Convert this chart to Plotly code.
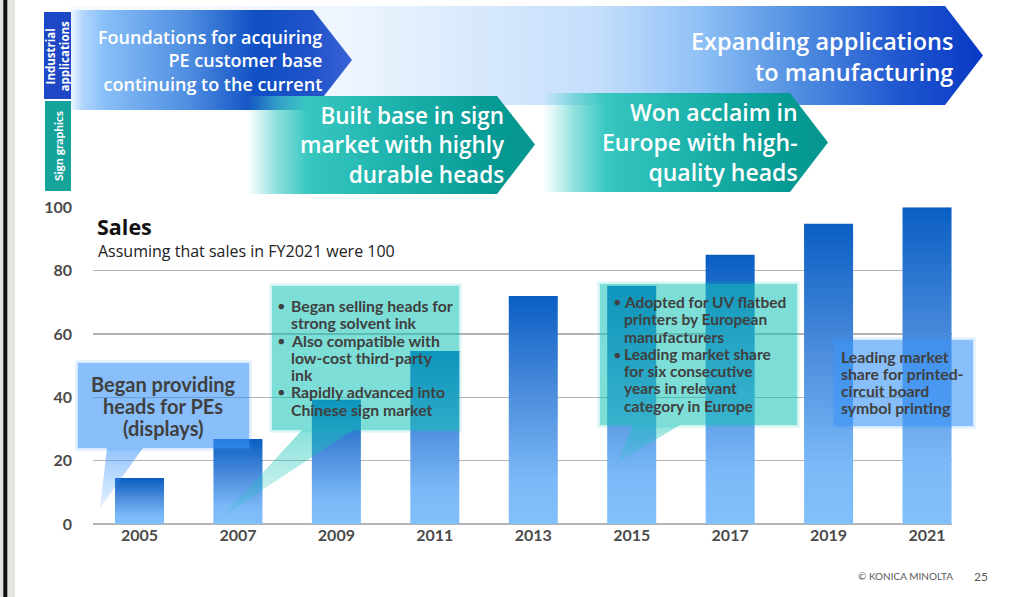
import plotly.graph_objects as go

# ---------------- data ----------------
years = ["2005", "2007", "2009", "2011", "2013", "2015", "2017", "2019", "2021"]
sales = [14.5, 26.8, 39.2, 54.6, 72.0, 75.2, 85.0, 94.8, 100.0]
y_ticks = [0, 20, 40, 60, 80, 100]

title_text = "Sales"
subtitle_text = "Assuming that sales in FY2021 were 100"
row_industrial = ["Industrial", "applications"]
row_sign = "Sign graphics"
banner_foundations = ["Foundations for acquiring", "PE customer base", "continuing to the current"]
banner_expanding = ["Expanding applications", "to manufacturing"]
banner_built = ["Built base in sign", "market with highly", "durable heads"]
banner_won = ["Won acclaim in", "Europe with high-", "quality heads"]
callout_pe = ["Began providing", "heads for PEs", "(displays)"]
callout_solvent = [("●", "Began selling heads for"), ("", "strong solvent ink"),
                   ("●", "Also compatible with"), ("", "low-cost third-party"), ("", "ink"),
                   ("●", "Rapidly advanced into"), ("", "Chinese sign market")]
callout_uv = [("●", "Adopted for UV flatbed"), ("", "printers by European"), ("", "manufacturers"),
              ("●", "Leading market share"), ("", "for six consecutive"), ("", "years in relevant"),
              ("", "category in Europe")]
callout_pcb = ["Leading market", "share for printed-", "circuit board", "symbol printing"]
footer_left = "© KONICA MINOLTA"
footer_page = "25"

# ---------------- layout constants ----------------
W, H = 1015, 597
LATO = "Lato, 'Open Sans', sans-serif"
OPEN = "'Open Sans', 'Noto Sans', sans-serif"
TXT = "#404040"
BAR_HALF = 0.249
X0_PX, X1_PX = 93, 952
Y0_PX, Y100_PX = 524, 207.3
PITCH = 98.44
FIRST_C = 139.5
x_range = [(X0_PX - FIRST_C) / PITCH, (X1_PX - FIRST_C) / PITCH]

bar_scale = [[0, "#82c0fc"], [0.2, "#7ab8f7"], [0.55, "#4f8fdd"], [1, "#0a5ec3"]]

fig = go.Figure()

# ---------------- bars (main axes) ----------------
for i, v in enumerate(sales):
    fig.add_trace(go.Scatter(
        x=[i - BAR_HALF, i + BAR_HALF, i + BAR_HALF, i - BAR_HALF, i - BAR_HALF],
        y=[0, 0, v, v, 0],
        fill="toself", mode="none",
        fillgradient=dict(type="vertical", colorscale=bar_scale, start=0, stop=v),
        hoverinfo="skip", showlegend=False, xaxis="x", yaxis="y"))


# ---------------- decorations (pixel overlay axes) ----------------
def poly(pts, fillcolor=None, grad=None):
    xs = [p[0] for p in pts] + [pts[0][0]]
    ys = [p[1] for p in pts] + [pts[0][1]]
    kw = dict(x=xs, y=ys, fill="toself", mode="none", hoverinfo="skip",
              showlegend=False, xaxis="x2", yaxis="y2")
    if grad is not None:
        kw["fillgradient"] = grad
    else:
        kw["fillcolor"] = fillcolor
    fig.add_trace(go.Scatter(**kw))


def soft_box(x0, y0, x1, y1, rgb, alpha):
    # faint halo to imitate the blurred edge, then the box itself
    for d, a in ((3, 0.10), (1.5, 0.12)):
        poly([(x0 - d, y0 - d), (x1 + d, y0 - d), (x1 + d, y1 + d), (x0 - d, y1 + d)],
             fillcolor=f"rgba({rgb},{a})")
    poly([(x0, y0), (x1, y0), (x1, y1), (x0, y1)], fillcolor=f"rgba({rgb},{alpha})")


# Expanding applications (background big arrow)
poly([(71, 6), (945, 6), (983, 55.5), (945, 105), (71, 105)],
     grad=dict(type="horizontal", start=71, stop=983,
               colorscale=[[0, "#f7fbff"], [0.3, "#eef5fe"], [0.58, "#c4defb"], [0.69, "#8fc1f6"],
                           [0.8, "#4f8de0"], [0.91, "#1f56cf"], [1, "#0838c4"]]))
# Foundations arrow
poly([(71, 10), (313, 10), (352, 60), (313, 110), (71, 110)],
     grad=dict(type="horizontal", start=71, stop=352,
               colorscale=[[0, "#eef6ff"], [0.04, "#b3d7fc"], [0.12, "#88bff8"], [0.42, "#4e8de0"],
                           [0.66, "#0f4fc3"], [0.85, "#1f52c8"], [1, "#3a62d6"]]))
teal_scale = lambda f1, f2: [[0, "rgba(80,210,205,0)"], [f1, "rgba(70,205,200,0.6)"], [f2, "#38c7c1"],
                             [0.5, "#1fb3ad"], [0.85, "#069a94"], [1, "#06968f"]]
# Built base arrow
poly([(247, 96), (497, 96), (535, 144.5), (497, 194), (247, 194)],
     grad=dict(type="horizontal", start=247, stop=535, colorscale=teal_scale(0.1, 0.21)))
# Won acclaim arrow
poly([(543, 93), (790, 93), (828, 142.5), (790, 192), (543, 192)],
     grad=dict(type="horizontal", start=543, stop=828, colorscale=teal_scale(0.11, 0.22)))
# row label boxes
poly([(44, 12), (71, 12), (71, 99), (44, 99)], fillcolor="#1d47c4")
poly([(45, 101), (71, 101), (71, 191), (45, 191)], fillcolor="#16a39c")

# callouts
BLUE_RGB, BLUE_A = "60,150,250", 0.50
TEAL_RGB, TEAL_A = "20,195,182", 0.43
soft_box(78, 363, 249, 448, BLUE_RGB, BLUE_A)
poly([(107, 448), (143, 448), (100, 508)],
     grad=dict(type="vertical", start=448, stop=508,
               colorscale=[[0, "rgba(60,150,250,0.55)"], [1, "rgba(60,150,250,0.12)"]]))
soft_box(272, 286, 459, 430, TEAL_RGB, TEAL_A)
poly([(302, 430), (353, 430), (223, 516)],
     grad=dict(type="vertical", start=430, stop=516,
               colorscale=[[0, "rgba(20,195,182,0.5)"], [1, "rgba(20,195,182,0.12)"]]))
soft_box(600, 284, 797, 425, TEAL_RGB, TEAL_A)
poly([(633, 425), (680, 425), (617, 463)],
     grad=dict(type="vertical", start=425, stop=463,
               colorscale=[[0, "rgba(20,195,182,0.48)"], [1, "rgba(20,195,182,0.12)"]]))
soft_box(834, 340, 973, 426, BLUE_RGB, BLUE_A)

# ---------------- text ----------------
ann = []


def text(x, y, s, size, color=TXT, anchor="left", weight="bold", angle=0, family=LATO, align=None):
    ann.append(dict(x=x, y=y, xref="x2", yref="y2", text=s, showarrow=False,
                    xanchor=anchor, yanchor="middle", textangle=angle, borderpad=0,
                    align=align or (anchor if anchor in ("left", "right") else "center"),
                    font=dict(family=family, size=size, color=color, weight=weight)))


text(323, 60.5, "<br>".join(banner_foundations), 18, "white", "right", 600, family=OPEN)
text(954, 56, "<br>".join(banner_expanding), 23.5, "white", "right", 600, family=OPEN)
text(506, 145, "<br>".join(banner_built), 22.5, "white", "right", 600, family=OPEN)
text(799, 142, "<br>".join(banner_won), 23, "white", "right", 600, family=OPEN)

text(57.5, 56, "<br>".join(row_industrial), 11.5, "white", "center", "bold", -90, family=OPEN)
text(58, 146, row_sign, 12, "white", "center", "bold", -90)

text(96, 226, title_text, 21.5, "#111111", "left", "bold", family=OPEN)
text(97, 251, subtitle_text, 16, "#222222", "left", "normal", family=OPEN)

for s, y in zip(callout_pe, [384, 406, 428]):
    text(163, y, s, 20, TXT, "center")
for (b, s), y in zip(callout_solvent, [305, 322.5, 340, 357.3, 374.5, 391.7, 409]):
    if b:
        text(281, y, b, 11, TXT, "center")
    text(290, y, s, 15.8, TXT, "left")
for (b, s), y in zip(callout_uv, [301.7, 319.3, 336.7, 354, 371, 388.3, 405.7]):
    if b:
        text(617, y, b, 11, TXT, "center")
    text(623, y, s, 15.5, TXT, "left")
for s, y in zip(callout_pcb, [356, 373.3, 390.7, 407.7]):
    text(840, y, s, 15.8, TXT, "left")

text(954, 576, footer_left, 10, "#595959", "right", "normal")
text(989, 576, footer_page, 12, "#595959", "right", "normal")

# left page edge
shapes = [
    dict(type="rect", xref="x2", yref="y2", x0=0, x1=15, y0=0, y1=H, fillcolor="#e4e4e0", line_width=0, layer="below"),
    dict(type="rect", xref="x2", yref="y2", x0=3.3, x1=7.3, y0=0, y1=H, fillcolor="#111111", line_width=0, layer="below"),
]

fig.update_layout(
    width=W, height=H, margin=dict(l=0, r=0, t=0, b=0, pad=0, autoexpand=False),
    paper_bgcolor="white", plot_bgcolor="rgba(0,0,0,0)",
    showlegend=False, annotations=ann, shapes=shapes,
    xaxis=dict(domain=[X0_PX / W, X1_PX / W], range=x_range, anchor="y", automargin=False,
               tickmode="array", tickvals=list(range(len(years))), ticktext=years,
               showgrid=False, zeroline=False, showline=False, ticks="",
               tickfont=dict(family=LATO, size=16, color="#4a4a4a", weight="bold"),
               fixedrange=True),
    yaxis=dict(domain=[1 - Y0_PX / H, 1 - Y100_PX / H], range=[0, 100], anchor="x", automargin=False,
               tickmode="array", tickvals=y_ticks, showgrid=True, gridcolor="#b4b4b4",
               gridwidth=1.5, zeroline=True, zerolinecolor="#b4b4b4", zerolinewidth=1.5,
               showline=False, ticks="", ticklabelstandoff=20,
               tickfont=dict(family=LATO, size=16, color="#4a4a4a", weight="bold"),
               fixedrange=True),
    xaxis2=dict(domain=[0, 1], range=[0, W], anchor="y2", visible=False, fixedrange=True, automargin=False),
    yaxis2=dict(domain=[0, 1], range=[H, 0], anchor="x2", visible=False, fixedrange=True, automargin=False),
)

fig.write_html(
    "out.html",
    config={"displayModeBar": False, "staticPlot": True},
    post_script="document.documentElement.style.margin='0';document.body.style.margin='0';"
                "document.body.style.padding='0';document.body.style.overflow='hidden';"
                "document.documentElement.style.overflow='hidden';",
)
